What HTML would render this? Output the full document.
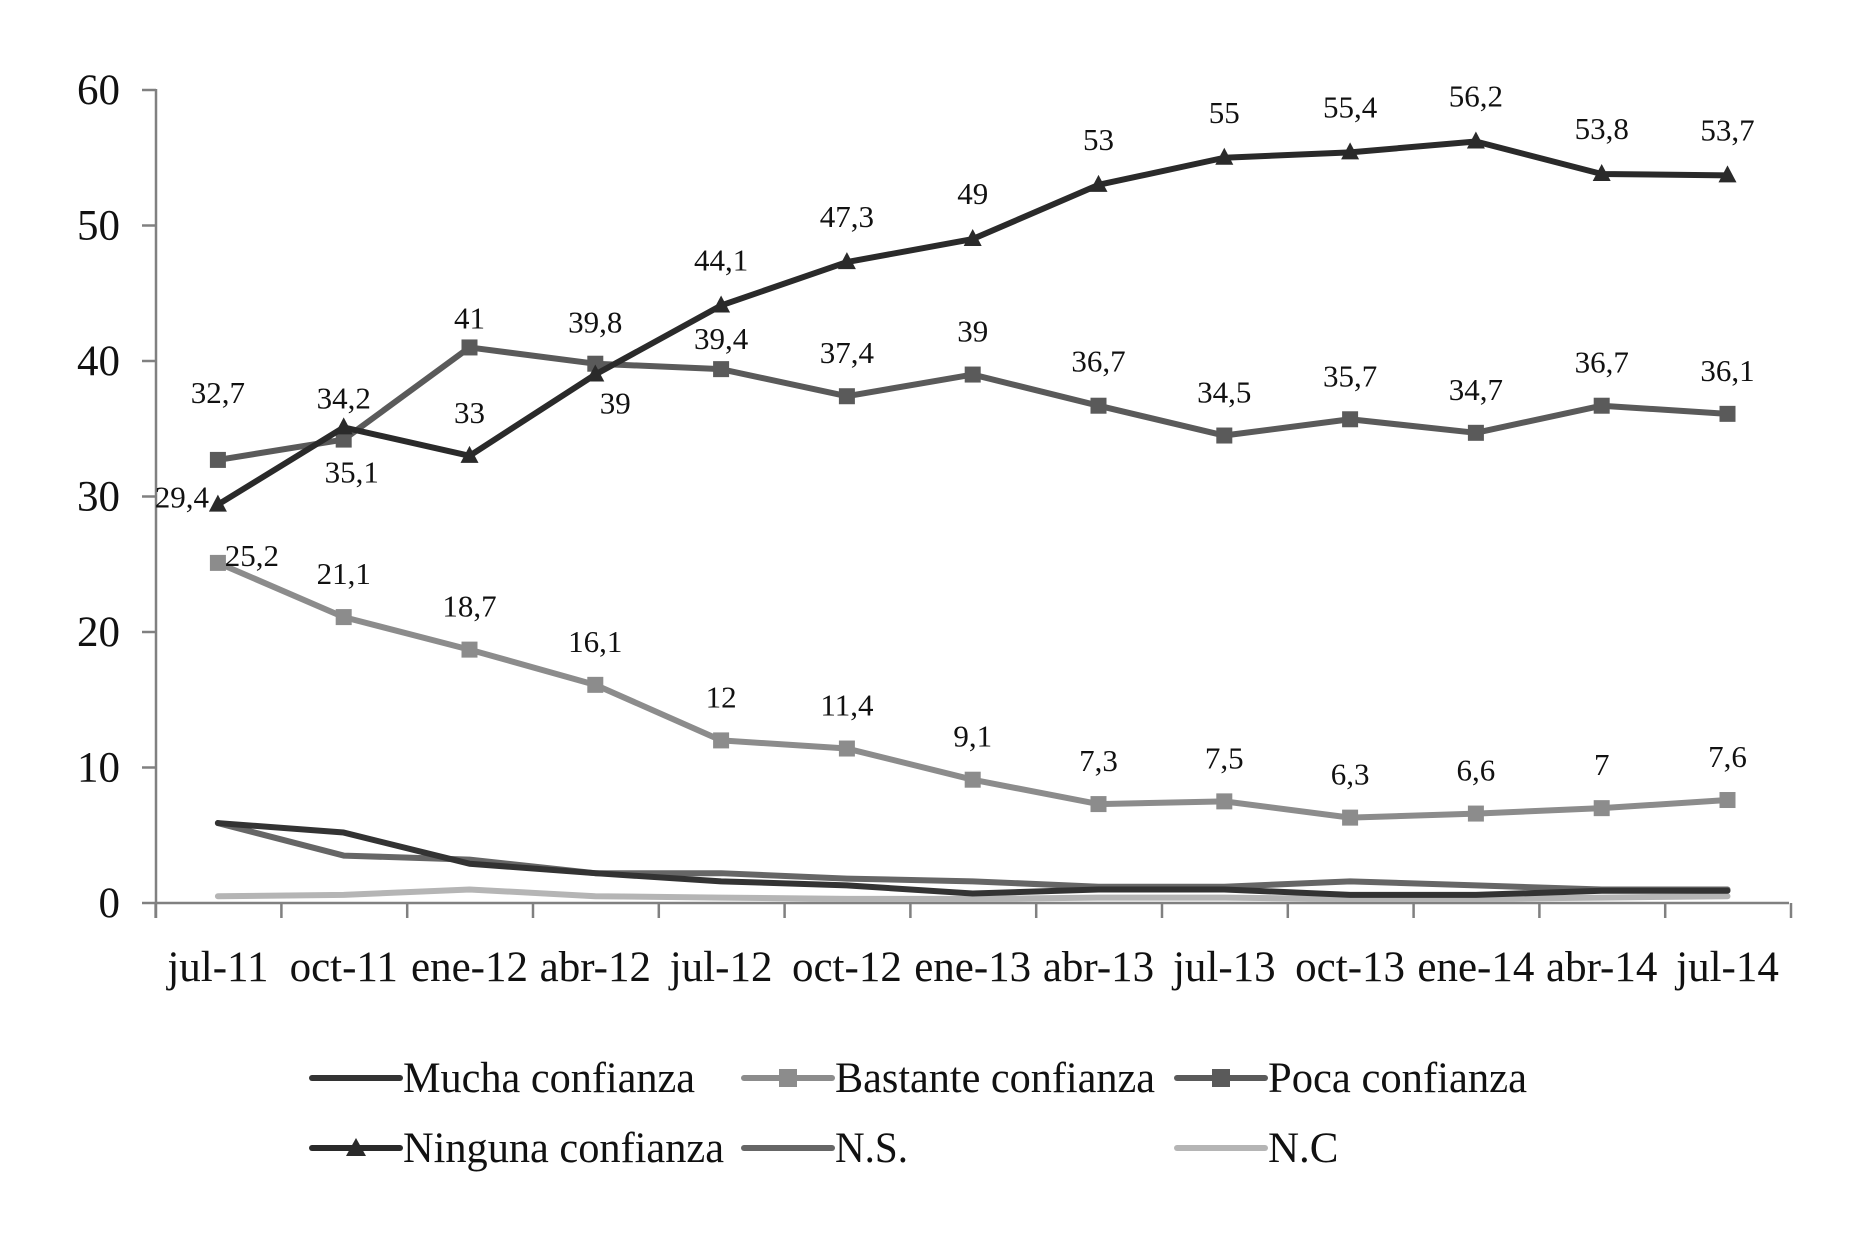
<!DOCTYPE html>
<html><head><meta charset="utf-8"><style>
html,body{margin:0;padding:0;background:#fff}
svg{display:block}
text{font-family:"Liberation Serif",serif;fill:#111}
</style></head><body>
<svg id="s" width="1866" height="1243" viewBox="0 0 1866 1243" xmlns="http://www.w3.org/2000/svg"></svg>
<script>
const s=document.getElementById('s');const NS='http://www.w3.org/2000/svg';
function el(t,a,txt){const e=document.createElementNS(NS,t);for(const k in a)e.setAttribute(k,a[k]);if(txt!==undefined)e.textContent=txt;s.appendChild(e);return e;}
const X=i=>217.9+125.8*i, Y=v=>903-v*13.55;
el('line',{x1:156,y1:89,x2:156,y2:918,stroke:'#808080','stroke-width':2.5});
el('line',{x1:155,y1:903,x2:1789,y2:903,stroke:'#808080','stroke-width':2.5});
for(let v=0;v<=60;v+=10){const y=Y(v);el('line',{x1:142,y1:y,x2:156,y2:y,stroke:'#808080','stroke-width':2.5});
el('text',{x:120,y:y+14,'text-anchor':'end','font-size':43},String(v));}
const cats=['jul-11','oct-11','ene-12','abr-12','jul-12','oct-12','ene-13','abr-13','jul-13','oct-13','ene-14','abr-14','jul-14'];
for(let i=0;i<=13;i++){const x=155.6+125.8*i;el('line',{x1:x,y1:903,x2:x,y2:918,stroke:'#808080','stroke-width':2.5});}
cats.forEach((c,i)=>el('text',{x:X(i),y:981,'text-anchor':'middle','font-size':43},c));
const series=[
 {d:[0.5,0.6,1.0,0.5,0.4,0.3,0.3,0.4,0.4,0.3,0.3,0.4,0.5],c:'#b5b5b5'},
 {d:[5.9,3.5,3.2,2.2,2.2,1.8,1.6,1.2,1.2,1.6,1.3,1.0,1.0],c:'#666'},
 {d:[5.9,5.2,2.9,2.2,1.6,1.3,0.7,1.0,1.0,0.6,0.6,0.9,0.9],c:'#333'},
 {d:[25.1,21.1,18.7,16.1,12,11.4,9.1,7.3,7.5,6.3,6.6,7,7.6],c:'#8c8c8c',m:'sq'},
 {d:[32.7,34.2,41,39.8,39.4,37.4,39,36.7,34.5,35.7,34.7,36.7,36.1],c:'#5a5a5a',m:'sq'},
 {d:[29.4,35.1,33,39,44.1,47.3,49,53,55,55.4,56.2,53.8,53.7],c:'#2a2a2a',m:'tri'}];
series.forEach(S=>{
 el('polyline',{points:S.d.map((v,i)=>X(i)+','+Y(v)).join(' '),fill:'none',stroke:S.c,'stroke-width':6,'stroke-linejoin':'round','stroke-linecap':'round'});
 if(S.m)S.d.forEach((v,i)=>{const x=X(i),y=Y(v);
  if(S.m==='sq')el('rect',{x:x-8,y:y-8,width:16,height:16,fill:S.c});
  else el('polygon',{points:`${x},${y-10} ${x+9},${y+7} ${x-9},${y+7}`,fill:S.c});});
});
function lab(v,i,t,dx,dy){el('text',{x:X(i)+dx,y:Y(v)+dy+11,'text-anchor':'middle','font-size':31},t);}
const B=series[3].d,P=series[4].d,N=series[5].d;
const bl=['25,2','21,1','18,7','16,1','12','11,4','9,1','7,3','7,5','6,3','6,6','7','7,6'];
bl.forEach((t,i)=>lab(B[i],i,t,i==0?34:0,i==0?-8:-44));
const pl=['32,7','34,2','41','39,8','39,4','37,4','39','36,7','34,5','35,7','34,7','36,7','36,1'];
const pdy=[-68,-42,-30,-42,-31,-44,-44,-45,-44,-44,-44,-44,-44];
pl.forEach((t,i)=>lab(P[i],i,t,0,pdy[i]));
const nl=['29,4','35,1','33','39','44,1','47,3','49','53','55','55,4','56,2','53,8','53,7'];
nl.forEach((t,i)=>{let dx=0,dy=-46;if(i==0){dx=-36;dy=-8}if(i==1){dx=8;dy=44}if(i==2){dy=-44}if(i==3){dx=20;dy=28}lab(N[i],i,t,dx,dy);});
function leg(x,y,c,m,t,tl){el('line',{x1:x,y1:y,x2:x+88,y2:y,stroke:c,'stroke-width':6,'stroke-linecap':'round'});
 if(m==='sq')el('rect',{x:x+35,y:y-9,width:18,height:18,fill:c});
 if(m==='tri')el('polygon',{points:`${x+44},${y-10} ${x+54},${y+8} ${x+34},${y+8}`,fill:c});
 const a={x:x+91,y:y+14,'font-size':43};if(tl){a.textLength=tl;a.lengthAdjust='spacingAndGlyphs';}
 el('text',a,t);}
leg(312,1078,'#333',null,'Mucha confianza',292);
leg(744,1078,'#8c8c8c','sq','Bastante confianza',320);
leg(1177,1078,'#5a5a5a','sq','Poca confianza',259);
leg(312,1148,'#2a2a2a','tri','Ninguna confianza',321);
leg(744,1148,'#666',null,'N.S.',73);
leg(1177,1148,'#b5b5b5',null,'N.C',0);
</script>
</body></html>
